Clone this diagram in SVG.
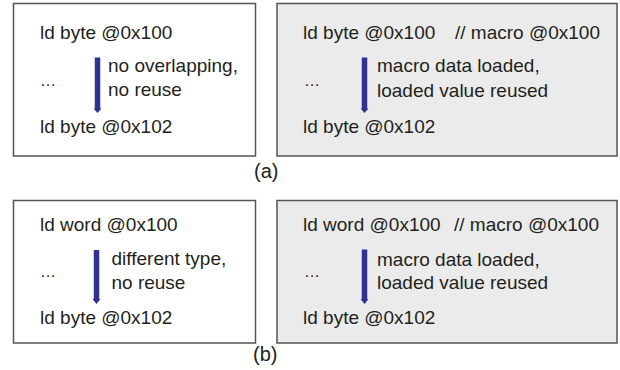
<svg xmlns="http://www.w3.org/2000/svg" width="620" height="370" viewBox="0 0 620 370">
<style>
.box{stroke:#555;stroke-width:1.5}
.w{fill:#fff}
.g{fill:#ebebeb}
text{font-family:"Liberation Sans",Arial,sans-serif;font-size:19px;fill:#231f20}
.dots{font-size:16px}
.cap{font-size:20px}
.bar{stroke:#2e3192;stroke-width:5.5;fill:none}
.head{fill:#2e3192}
</style>
<rect width="620" height="370" fill="#fff"/>
<g id="box-a1">
<rect class="box w" x="13.5" y="3.5" width="242" height="152.5"/>
<text x="40" y="39">ld byte @0x100</text>
<text class="dots" x="40" y="86">…</text>
<text x="108" y="72">no overlapping,</text>
<text x="108" y="96">no reuse</text>
<text x="40" y="132.5">ld byte @0x102</text>
</g>
<g id="box-a2">
<rect class="box g" x="277" y="3.5" width="340" height="152.5"/>
<text x="303" y="39">ld byte @0x100</text>
<text x="455" y="39">// macro @0x100</text>
<text class="dots" x="304" y="86">…</text>
<text x="377" y="72">macro data loaded,</text>
<text x="377" y="96.5">loaded value reused</text>
<text x="303" y="132.5">ld byte @0x102</text>
</g>
<text id="label-a" class="cap" x="254" y="178">(a)</text>
<g id="box-b1">
<rect class="box w" x="13.5" y="200.5" width="242" height="142.5"/>
<text x="40" y="231">ld word @0x100</text>
<text class="dots" x="40" y="277">…</text>
<text x="111.5" y="265">different type,</text>
<text x="111.5" y="289">no reuse</text>
<text x="40" y="324">ld byte @0x102</text>
</g>
<g id="box-b2">
<rect class="box g" x="277" y="200.5" width="340" height="142.5"/>
<text x="303" y="231">ld word @0x100</text>
<text x="454" y="231">// macro @0x100</text>
<text class="dots" x="304" y="277">…</text>
<text x="377" y="265.5">macro data loaded,</text>
<text x="377" y="288.5">loaded value reused</text>
<text x="303" y="324">ld byte @0x102</text>
</g>
<text id="label-b" class="cap" x="253" y="361">(b)</text>
<g id="connectors">
<line class="bar" x1="97.5" y1="57.5" x2="97.5" y2="109"/>
<polygon class="head" points="93.5,108.5 101.5,108.5 97.5,113"/>
<line class="bar" x1="364.5" y1="57.5" x2="364.5" y2="109"/>
<polygon class="head" points="360.5,108.5 368.5,108.5 364.5,113"/>
<line class="bar" x1="96.5" y1="250" x2="96.5" y2="299.5"/>
<polygon class="head" points="92.5,299 100.5,299 96.5,304"/>
<line class="bar" x1="364.5" y1="249.5" x2="364.5" y2="299.5"/>
<polygon class="head" points="360.5,299 368.5,299 364.5,304"/>
</g>
</svg>
